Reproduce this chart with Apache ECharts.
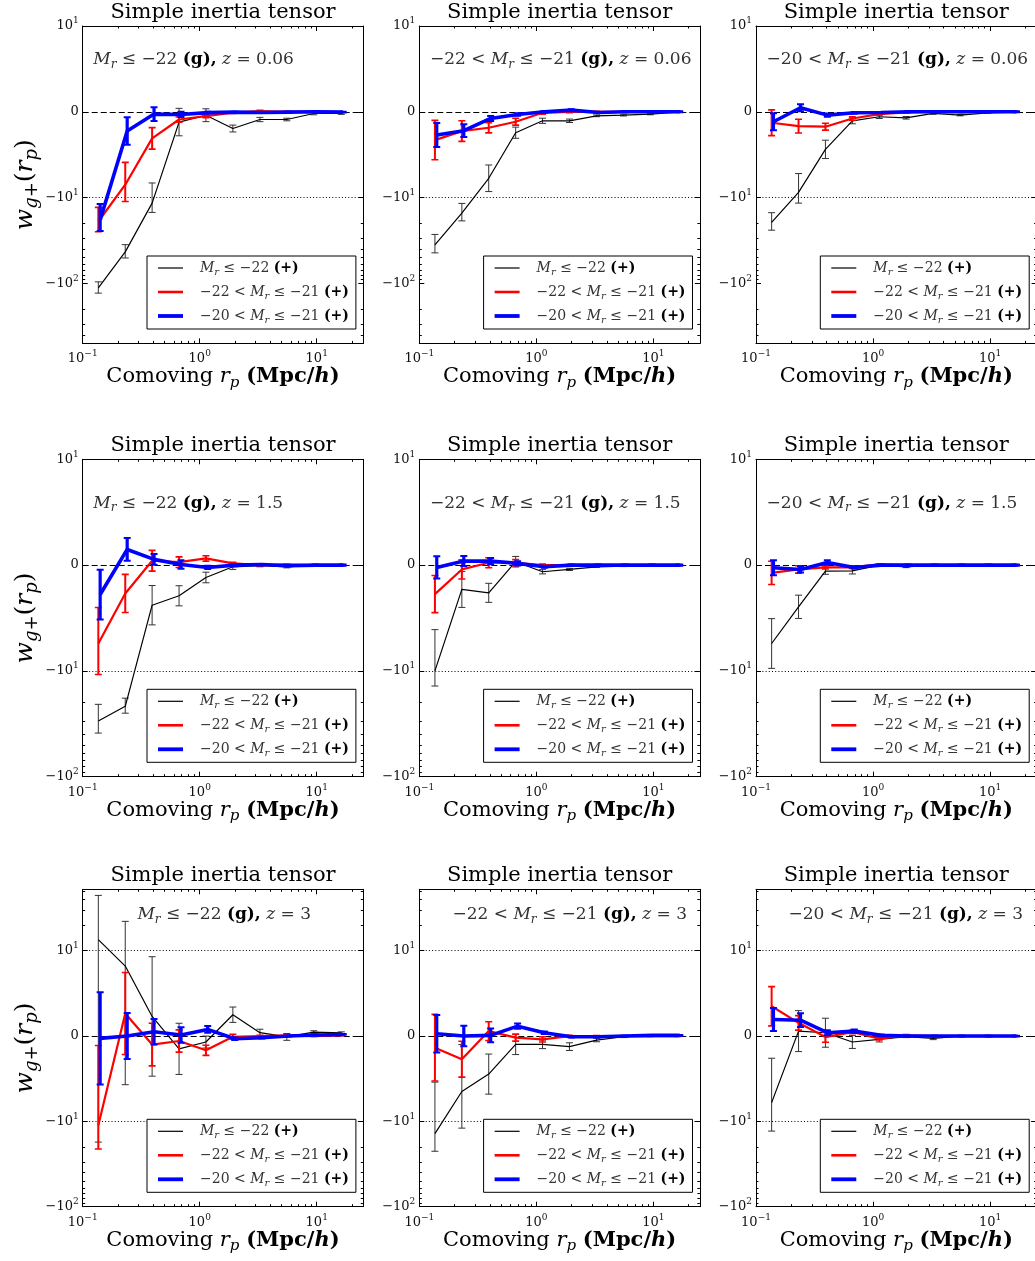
<!DOCTYPE html>
<html><head><meta charset="utf-8">
<script src="https://cdn.jsdelivr.net/npm/echarts@6/dist/echarts.min.js"></script>
<style>html,body{margin:0;padding:0;background:#fff}#c{width:1035px;height:1261px}</style>
</head><body><div id="c"></div>
<script>
// ---------------- DATA ----------------
const rp     = [0.136, 0.231, 0.392, 0.666, 1.13, 1.92, 3.27, 5.55, 9.43, 16.2];
const rpBlue = [0.141, 0.240, 0.407, 0.692, 1.17, 1.99, 3.40, 5.77, 9.80, 16.8];

const seriesNames = ['M_r ≤ −22 (+)', '−22 < M_r ≤ −21 (+)', '−20 < M_r ≤ −21 (+)'];
const panelTitle = 'Simple inertia tensor';
const panelLabels = [
  'M_r ≤ −22 (g), z = 0.06', '−22 < M_r ≤ −21 (g), z = 0.06', '−20 < M_r ≤ −21 (g), z = 0.06',
  'M_r ≤ −22 (g), z = 1.5',  '−22 < M_r ≤ −21 (g), z = 1.5',  '−20 < M_r ≤ −21 (g), z = 1.5',
  'M_r ≤ −22 (g), z = 3',    '−22 < M_r ≤ −21 (g), z = 3',    '−20 < M_r ≤ −21 (g), z = 3'
];
const xAxisTitle = 'Comoving r_p (Mpc/h)';
const yAxisTitle = 'w_g+(r_p)';
const xTickValues = [0.1, 1, 10];
const xTickLabels = ['10^−1', '10^0', '10^1'];
const yTickValues = [10, 0, -10, -100];
const yTickLabels = ['10^1', '0', '−10^1', '−10^2'];
const refLineValues = [0, -10, 10];

// row 1 (z = 0.06)
const p11Black = [-113, -43, -11.6, -1.2, -0.4, -1.95, -0.9, -0.9, -0.2, -0.2];
const p11BlackErr = [17, 7.6, 3.3, 1.6, 0.75, 0.4, 0.25, 0.15, 0.15, 0.1];
const p11Red = [-19, -8.5, -3.1, -0.9, -0.5, -0.1, 0.08, 0, 0, -0.04];
const p11RedErr = [6, 2.6, 1.25, 0.3, 0.2, 0.1, 0.1, 0.05, 0.05, 0.05];
const p11Blue = [-18.2, -2.25, -0.27, -0.31, -0.1, -0.04, -0.08, -0.04, 0, -0.04];
const p11BlueErr = [6.3, 1.6, 0.8, 0.3, 0.1, 0.05, 0.05, 0.05, 0.05, 0.05];

const p12Black = [-35.5, -15.2, -7.75, -2.44, -1.05, -1.05, -0.47, -0.39, -0.27, -0.04];
const p12BlackErr = [8.6, 3.5, 1.55, 0.65, 0.3, 0.2, 0.1, 0.1, 0.08, 0.05];
const p12Red = [-3.3, -2.25, -1.86, -1.16, -0.12, 0, 0, 0, 0, 0];
const p12RedErr = [2.3, 1.2, 0.6, 0.4, 0.15, 0.1, 0.05, 0.05, 0.05, 0.05];
const p12Blue = [-2.71, -2.2, -0.78, -0.31, 0, 0.19, -0.08, 0, 0, 0];
const p12BlueErr = [1.4, 0.75, 0.3, 0.15, 0.1, 0.1, 0.05, 0.05, 0.05, 0.05];

const p13Black = [-19.5, -9.4, -4.38, -1.05, -0.58, -0.7, -0.19, -0.39, -0.12, -0.04];
const p13BlackErr = [4.5, 2.2, 1.07, 0.35, 0.2, 0.15, 0.1, 0.08, 0.05, 0.05];
const p13Red = [-1.28, -1.67, -1.74, -0.78, -0.27, -0.08, 0, 0, 0, 0];
const p13RedErr = [1.5, 0.8, 0.4, 0.2, 0.1, 0.05, 0.05, 0.05, 0.05, 0.05];
const p13Blue = [-1.16, 0.47, -0.39, -0.12, -0.08, 0, 0, 0, 0, 0];
const p13BlueErr = [1.0, 0.4, 0.2, 0.1, 0.05, 0.05, 0.05, 0.05, 0.05, 0.05];

// row 2 (z = 1.5)
const p21Black = [-29.7, -21.6, -3.79, -2.9, -1.17, -0.16, -0.06, -0.16, 0, 0];
const p21BlackErr = [9, 3.5, 1.86, 0.95, 0.5, 0.25, 0.1, 0.1, 0.05, 0.05];
const p21Red = [-7.41, -2.68, 0.41, 0.28, 0.63, 0.16, 0, 0.06, 0, 0];
const p21RedErr = [3.4, 1.8, 0.98, 0.5, 0.25, 0.1, 0.05, 0.05, 0.05, 0.05];
const p21Blue = [-2.78, 1.48, 0.54, 0.06, -0.22, 0, 0.06, -0.06, 0, 0];
const p21BlueErr = [2.35, 1.07, 0.5, 0.4, 0.15, 0.1, 0.05, 0.05, 0.05, 0.05];

const p22Black = [-10.0, -2.3, -2.62, 0.32, -0.63, -0.41, -0.16, -0.09, 0, 0];
const p22BlackErr = [3.9, 1.7, 0.9, 0.5, 0.2, 0.1, 0.05, 0.05, 0.05, 0.05];
const p22Red = [-2.74, -0.41, 0.22, 0.22, 0, 0, 0, 0, 0, 0];
const p22RedErr = [1.75, 0.9, 0.47, 0.3, 0.1, 0.05, 0.05, 0.05, 0.05, 0.05];
const p22Blue = [-0.22, 0.38, 0.38, 0.16, -0.16, 0, 0, 0, 0, 0];
const p22BlueErr = [1.05, 0.47, 0.3, 0.2, 0.1, 0.05, 0.05, 0.05, 0.05, 0.05];

const p23Black = [-7.41, -3.94, -0.57, -0.54, 0, -0.16, 0, -0.06, 0, 0];
const p23BlackErr = [2.35, 1.1, 0.3, 0.3, 0.1, 0.08, 0.05, 0.05, 0.05, 0.05];
const p23Red = [-0.73, -0.41, -0.22, -0.22, 0.06, 0, 0, 0, 0, 0];
const p23RedErr = [1.1, 0.35, 0.15, 0.1, 0.05, 0.05, 0.05, 0.05, 0.05, 0.05];
const p23Blue = [-0.25, -0.41, 0.25, -0.22, 0, 0, 0, 0, 0, 0];
const p23BlueErr = [0.7, 0.3, 0.2, 0.1, 0.05, 0.05, 0.05, 0.05, 0.05, 0.05];

// row 3 (z = 3)
const p31Black = [13.5, 8.2, 2.3, -1.5, -0.7, 2.5, 0.4, -0.1, 0.47, 0.39];
const p31BlackErr = [31, 13.9, 7, 3.0, 0.7, 0.9, 0.4, 0.4, 0.15, 0.1];
const p31Red = [-11.1, 2.64, -1.0, -0.58, -1.67, -0.08, 0, 0.08, 0, 0.08];
const p31RedErr = [10, 4.8, 2.5, 1.3, 0.6, 0.3, 0.1, 0.1, 0.05, 0.05];
const p31Blue = [-0.27, 0, 0.5, 0.12, 0.78, -0.31, -0.19, 0, 0.12, 0.19];
const p31BlueErr = [5.4, 2.7, 1.5, 0.9, 0.4, 0.15, 0.1, 0.05, 0.05, 0.05];

const p32Black = [-13.9, -6.5, -4.46, -0.97, -0.97, -1.24, -0.47, -0.08, 0.12, 0.08];
const p32BlackErr = [8.5, 5.5, 2.35, 1.2, 0.5, 0.45, 0.2, 0.1, 0.05, 0.05];
const p32Red = [-1.36, -2.71, 0.58, -0.19, -0.39, 0, 0, 0, 0, 0];
const p32RedErr = [3.9, 2.1, 1.1, 0.4, 0.3, 0.1, 0.05, 0.05, 0.05, 0.05];
const p32Blue = [0.27, 0, 0.08, 1.16, 0.39, -0.08, -0.08, 0, 0.08, 0.08];
const p32BlueErr = [2.2, 1.2, 0.8, 0.3, 0.15, 0.1, 0.05, 0.05, 0.05, 0.05];

const p33Black = [-7.8, 0.58, 0.39, -0.7, -0.39, -0.08, -0.27, 0, 0, 0];
const p33BlackErr = [5.2, 2.4, 1.7, 0.75, 0.3, 0.1, 0.15, 0.05, 0.05, 0.05];
const p33Red = [3.49, 1.55, -0.12, 0.47, -0.31, 0.08, 0, 0, 0, 0];
const p33RedErr = [2.3, 0.85, 0.6, 0.2, 0.15, 0.1, 0.05, 0.05, 0.05, 0.05];
const p33Blue = [1.94, 1.86, 0.39, 0.58, 0.08, 0, 0, 0, 0, 0];
const p33BlueErr = [1.35, 0.8, 0.3, 0.2, 0.1, 0.05, 0.05, 0.05, 0.05, 0.05];

// ---------------- LAYOUT / STYLE ----------------
const panels = [
  [[p11Black,p11BlackErr],[p11Red,p11RedErr],[p11Blue,p11BlueErr]],
  [[p12Black,p12BlackErr],[p12Red,p12RedErr],[p12Blue,p12BlueErr]],
  [[p13Black,p13BlackErr],[p13Red,p13RedErr],[p13Blue,p13BlueErr]],
  [[p21Black,p21BlackErr],[p21Red,p21RedErr],[p21Blue,p21BlueErr]],
  [[p22Black,p22BlackErr],[p22Red,p22RedErr],[p22Blue,p22BlueErr]],
  [[p23Black,p23BlackErr],[p23Red,p23RedErr],[p23Blue,p23BlueErr]],
  [[p31Black,p31BlackErr],[p31Red,p31RedErr],[p31Blue,p31BlueErr]],
  [[p32Black,p32BlackErr],[p32Red,p32RedErr],[p32Blue,p32BlueErr]],
  [[p33Black,p33BlackErr],[p33Red,p33RedErr],[p33Blue,p33BlueErr]]
];

const FONT = 'DejaVu Serif';
const colors = ['#000000', '#ff0000', '#0000ff'];
const ebColors = ['#333333', '#ff0000', '#0000ff'];
const lineW = [1.2, 2.2, 3.6];
const ebW = [1, 2, 3.2];
const capW = [1, 1.6, 2];
const legendIcons = ['path://M0,0H25V1.2H0Z', 'path://M0,0H25V2.6H0Z', 'path://M0,0H25V3.8H0Z'];

const gridLeft = [82.7, 419.3, 756];
const gridTop = [26, 459.3, 889.3];
const gridW = 280.6, gridH = 317.4;
const yRange = [[-2.7, 1], [-2, 1], [-2, 1.72]];
const X_MIN = -1, X_MAX = Math.log10(25);
const annCenterY = [60, 503.3, 915];
const annRightRow3 = [311, 687, 1023];

// symlog (linthresh 10, one decade per linear half) and log transforms
const T = v => Math.abs(v) <= 10 ? v / 10 : Math.sign(v) * (1 + Math.log10(Math.abs(v) / 10));
const L = v => Math.log10(v);

const xMajorT = xTickValues.map(L);
const yMajorT = yTickValues.map(T);
const xMinorT = [];
[-1, 0, 1].forEach(e => { for (let k = 2; k <= 9; k++) { const t = e + Math.log10(k); if (t < X_MAX) xMinorT.push(t); } });
function yMinor(r) {
  const out = [];
  for (let d = 1; d <= 3; d++) for (let k = 2; k <= 9; k++) {
    const t = d + Math.log10(k);
    if (t < r[1]) out.push(t);
    if (-t > r[0]) out.push(-t);
  }
  return out;
}

function richFor(S, mathColor, lhMul) {
  const s = Math.round(S * 0.7), LH = Math.round(S * (lhMul || 1.3));
  return {
    m:   { fontFamily: FONT, fontSize: S, color: mathColor, lineHeight: LH },
    n:   { fontFamily: FONT, fontSize: S, color: '#000', lineHeight: LH },
    i:   { fontFamily: FONT, fontSize: S, fontStyle: 'italic', color: mathColor, lineHeight: LH },
    b:   { fontFamily: FONT, fontSize: S, fontWeight: 'bold', color: '#000', lineHeight: LH },
    bi:  { fontFamily: FONT, fontSize: S, fontWeight: 'bold', fontStyle: 'italic', color: '#000', lineHeight: LH },
    s:   { fontFamily: FONT, fontSize: s, fontStyle: 'italic', color: mathColor, lineHeight: s, verticalAlign: 'bottom' },
    sr:  { fontFamily: FONT, fontSize: s, color: mathColor, lineHeight: s, verticalAlign: 'bottom' },
    sup: { fontFamily: FONT, fontSize: s, color: mathColor, lineHeight: s, verticalAlign: 'top' }
  };
}

// convert plain label text to rich-text markup
function fmtLabel(str) {
  return str.split(/(M_r|\(g\),|\(\+\)|\bz\b)/).filter(p => p !== '').map(p => {
    if (p === 'M_r') return '{i|M}{s|r}';
    if (p === '(g),' || p === '(+)') return '{b|' + p + '}';
    if (p === 'z') return '{i|z}';
    return '{m|' + p + '}';
  }).join('');
}
function fmtTick(lbl) {
  const k = lbl.indexOf('^');
  if (k < 0) return '{m|' + lbl + '}';
  return '{m|' + lbl.slice(0, k) + '}{sup|' + lbl.slice(k + 1) + '}';
}
function fmtXName(str) {
  return str.replace(/^(\S+) r_p \(Mpc\/h\)$/, '{n|$1 }{i|r}{s|p}{n| }{b|(Mpc/}{bi|h}{b|)}');
}
function fmtYName(str) {
  return str.replace(/^w_g\+\(r_p\)$/, '{i|w}{s|g}{sr|+}{m|(}{i|r}{s|p}{m|)}');
}

function renderEB(color, width, cw) {
  return function (params, api) {
    const x = api.value(0), lo = api.value(1), hi = api.value(2);
    const a = api.coord([x, hi]), b = api.coord([x, lo]);
    const c = 3.5;
    return {
      type: 'group', children: [
        { type: 'line', shape: { x1: a[0], y1: a[1], x2: b[0], y2: b[1] }, style: { stroke: color, lineWidth: width } },
        { type: 'line', shape: { x1: a[0] - c, y1: a[1], x2: a[0] + c, y2: a[1] }, style: { stroke: color, lineWidth: cw } },
        { type: 'line', shape: { x1: b[0] - c, y1: b[1], x2: b[0] + c, y2: b[1] }, style: { stroke: color, lineWidth: cw } }
      ]
    };
  };
}

const grid = [], xAxis = [], yAxis = [], series = [], title = [], legend = [];
const tickRich = richFor(13, '#111', 1.45);

panels.forEach((P, gi) => {
  const row = Math.floor(gi / 3), col = gi % 3;
  const yr = yRange[row];
  grid.push({ left: gridLeft[col], top: gridTop[row], width: gridW, height: gridH, show: false, containLabel: false, outerBoundsMode: 'none' });

  const line = { onZero: false, show: true, lineStyle: { color: '#000', width: 1 } };
  const noLine = { onZero: false, show: false };
  const xb = { type: 'value', gridIndex: gi, min: X_MIN, max: X_MAX, splitLine: { show: false }, axisPointer: { show: false } };
  xAxis.push(
    Object.assign({}, xb, {
      position: 'bottom', axisLine: line,
      axisTick: { inside: true, length: 5, customValues: xMajorT, lineStyle: { color: '#000' } },
      axisLabel: { customValues: xMajorT, margin: 6, rich: tickRich,
        formatter: v => fmtTick(xTickLabels[xMajorT.findIndex(t => Math.abs(t - v) < 1e-6)]) },
      name: fmtXName(xAxisTitle), nameLocation: 'middle', nameGap: 19,
      nameTextStyle: { fontFamily: FONT, fontSize: 21, color: '#000', rich: richFor(21, '#000') }
    }),
    Object.assign({}, xb, { position: 'bottom', axisLine: noLine,
      axisTick: { inside: true, length: 2.5, customValues: xMinorT, lineStyle: { color: '#000' } }, axisLabel: { show: false } }),
    Object.assign({}, xb, { position: 'top', axisLine: line,
      axisTick: { inside: true, length: 5, customValues: xMajorT, lineStyle: { color: '#000' } }, axisLabel: { show: false } }),
    Object.assign({}, xb, { position: 'top', axisLine: noLine,
      axisTick: { inside: true, length: 2.5, customValues: xMinorT, lineStyle: { color: '#000' } }, axisLabel: { show: false } })
  );
  const yMin = yMinor(yr);
  const yMaj = yMajorT.filter(t => t >= yr[0] - 1e-9 && t <= yr[1] + 1e-9);
  const yb = { type: 'value', gridIndex: gi, min: yr[0], max: yr[1], splitLine: { show: false }, axisPointer: { show: false } };
  const yMain = Object.assign({}, yb, {
    position: 'left', axisLine: line,
    axisTick: { inside: true, length: 5, customValues: yMaj, lineStyle: { color: '#000' } },
    axisLabel: { customValues: yMaj, margin: 4, rich: tickRich,
      formatter: v => fmtTick(yTickLabels[yMajorT.findIndex(t => Math.abs(t - v) < 1e-6)]) }
  });
  if (col === 0) {
    Object.assign(yMain, { name: fmtYName(yAxisTitle), nameLocation: 'middle', nameRotate: 90, nameGap: 38,
      nameTextStyle: { fontFamily: FONT, fontSize: 25, color: '#000', rich: richFor(25, '#000') } });
  }
  yAxis.push(
    yMain,
    Object.assign({}, yb, { position: 'left', axisLine: noLine,
      axisTick: { inside: true, length: 2.5, customValues: yMin, lineStyle: { color: '#000' } }, axisLabel: { show: false } }),
    Object.assign({}, yb, { position: 'right', axisLine: line,
      axisTick: { inside: true, length: 5, customValues: yMaj, lineStyle: { color: '#000' } }, axisLabel: { show: false } }),
    Object.assign({}, yb, { position: 'right', axisLine: noLine,
      axisTick: { inside: true, length: 2.5, customValues: yMin, lineStyle: { color: '#000' } }, axisLabel: { show: false } })
  );

  // reference lines
  const refs = refLineValues.map(T).filter(t => t > yr[0] && t < yr[1]).map(t => ({
    yAxis: t,
    lineStyle: t === 0 ? { color: '#000', width: 1.2, type: [6, 3] } : { color: '#000', width: 1, type: [1, 2.2] }
  }));

  P.forEach((S, si) => {
    const xs = si === 2 ? rpBlue : rp;
    const vals = S[0], errs = S[1];
    series.push({
      type: 'custom', name: 'eb' + gi + '_' + si, xAxisIndex: gi * 4, yAxisIndex: gi * 4,
      data: vals.map((v, k) => [L(xs[k]), T(v - errs[k]), T(v + errs[k])]),
      encode: { x: 0, y: [1, 2] }, renderItem: renderEB(ebColors[si], ebW[si], capW[si]),
      z: 2 + si, silent: true, clip: true
    });
    const s = {
      type: 'line', name: seriesNames[si], xAxisIndex: gi * 4, yAxisIndex: gi * 4,
      data: vals.map((v, k) => [L(xs[k]), T(v)]),
      showSymbol: false, symbol: 'none', silent: true, z: 2 + si,
      lineStyle: { color: colors[si], width: lineW[si] }, itemStyle: { color: colors[si] }
    };
    if (si === 0) s.markLine = { silent: true, symbol: ['none', 'none'], z: 1, label: { show: false }, animation: false, data: refs };
    series.push(s);
  });

  title.push({
    text: panelTitle, left: gridLeft[col] + gridW / 2, top: gridTop[row] - 24, textAlign: 'center', padding: 0,
    textStyle: { fontFamily: FONT, fontSize: 21, fontWeight: 'normal', color: '#000', lineHeight: 21 }
  });
  const annRich = richFor(17, '#333');
  if (row < 2) {
    title.push({ text: fmtLabel(panelLabels[gi]), left: gridLeft[col] + 10.6, top: annCenterY[row] - 11, textAlign: 'left', padding: 0,
      textStyle: { fontFamily: FONT, fontSize: 17, fontWeight: 'normal', rich: annRich } });
  } else {
    title.push({ text: fmtLabel(panelLabels[gi]), left: annRightRow3[col], top: annCenterY[row] - 11, textAlign: 'right', padding: 0,
      textStyle: { fontFamily: FONT, fontSize: 17, fontWeight: 'normal', rich: annRich } });
  }

  legend.push({
    orient: 'vertical', left: gridLeft[col] + 64.3, top: gridTop[row] + 230,
    data: seriesNames.map((n, si) => ({ name: n, icon: legendIcons[si] })),
    itemWidth: 25, itemHeight: 18, itemGap: 8, padding: [5, 7, 4, 11],
    borderColor: '#000', borderWidth: 1, backgroundColor: '#fff', borderRadius: 0,
    selectedMode: false, itemStyle: { borderWidth: 0 }, symbolKeepAspect: true,
    formatter: n => fmtLabel(n),
    textStyle: { fontFamily: FONT, fontSize: 14, color: '#333', width: 148, padding: [0, 0, 0, 12], rich: richFor(14, '#333', 1.25) }
  });
});

const chart = echarts.init(document.getElementById('c'), null, { renderer: 'canvas', width: 1035, height: 1261 });
chart.setOption({ animation: false, backgroundColor: '#fff', grid, xAxis, yAxis, series, title, legend });
</script>
</body></html>
